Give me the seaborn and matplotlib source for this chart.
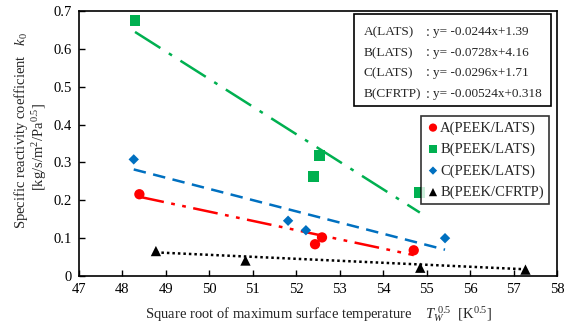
import numpy as np
import pandas as pd
import matplotlib
matplotlib.use("Agg")
import matplotlib.pyplot as plt
import seaborn as sns
from matplotlib.patches import Rectangle

sns.set_theme(style="ticks")
plt.rcParams['font.family'] = ['Liberation Serif', 'DejaVu Serif']
plt.rcParams['mathtext.fontset'] = 'custom'
plt.rcParams['mathtext.rm'] = 'Liberation Serif'
plt.rcParams['mathtext.it'] = 'Liberation Serif:italic'

# ---- data ----
series_names = ["A(PEEK/LATS)", "B(PEEK/LATS)", "C(PEEK/LATS)", "B(PEEK/CFRTP)"]
a_x = [48.39, 52.43, 52.59, 54.70]
a_y = [0.216, 0.084, 0.102, 0.068]
b_x = [48.29, 52.40, 52.54, 54.84]
b_y = [0.675, 0.262, 0.318, 0.220]
c_x = [48.26, 51.81, 52.22, 55.42]
c_y = [0.308, 0.146, 0.121, 0.100]
d_x = [48.77, 50.83, 54.85, 57.27]
d_y = [0.066, 0.041, 0.022, 0.017]

fit_labels = ["A(LATS)", "B(LATS)", "C(LATS)", "B(CFRTP)"]
fit_text = ["y= -0.0244x+1.39", "y= -0.0728x+4.16", "y= -0.0296x+1.71", "y= -0.00524x+0.318"]
slopes = [-0.0244, -0.0728, -0.0296, -0.00524]
intercepts = [1.39, 4.16, 1.71, 0.318]

x_ticks = list(range(47, 59))
y_ticks = [0, 0.1, 0.2, 0.3, 0.4, 0.5, 0.6, 0.7]

colors = ["#FF0000", "#00B050", "#0070C0", "#000000"]
markers = ["o", "s", "D", "^"]
msizes = [55, 60, 28, 55]
linestyles = [(0, (10, 3, 1.5, 3, 1.5, 3)), (0, (12, 4, 1.5, 4)), (0, (5, 3)), (0, (1, 1.2))]

xs = [a_x, b_x, c_x, d_x]
ys = [a_y, b_y, c_y, d_y]

fig = plt.figure(figsize=(5.68, 3.31), dpi=100)
ax = fig.add_axes([0.139, 0.166, 0.842, 0.801])

for i in range(4):
    df = pd.DataFrame({"x": xs[i], "y": ys[i]})
    xmin, xmax = min(xs[i]), max(xs[i])
    lx = np.array([xmin, xmax])
    ldf = pd.DataFrame({"x": lx, "y": slopes[i] * lx + intercepts[i]})
    sns.lineplot(data=ldf, x="x", y="y", ax=ax, color=colors[i], lw=1.8,
                 linestyle=linestyles[i], zorder=2)
    sns.scatterplot(data=df, x="x", y="y", ax=ax, color=colors[i], marker=markers[i],
                    s=msizes[i], edgecolor="none", label=series_names[i], zorder=3)

ax.set_xlim(47, 58)
ax.set_ylim(0, 0.7)
ax.set_xticks(x_ticks)
ax.set_yticks(y_ticks)
ax.set_yticklabels(["0", "0.1", "0.2", "0.3", "0.4", "0.5", "0.6", "0.7"])
ax.tick_params(direction="in", length=4, width=1, labelsize=10.5, colors="black", pad=5)
for s in ax.spines.values():
    s.set_linewidth(1.2)
    s.set_color("black")

ax.set_xlabel(r"Square root of maximum surface temperature    $T_W^{\ 0.5}$  [K$^{0.5}$]",
              fontsize=10.5, labelpad=6)
ax.set_ylabel("")
fig.text(0.037, 0.605, r"Specific reactivity coefficient   $k_0$", rotation=90,
         ha="center", va="center", fontsize=10.5)
fig.text(0.07, 0.555, r"[kg/s/m$^2$/Pa$^{0.5}$]", rotation=90,
         ha="center", va="center", fontsize=10.5)

# equation box (in pixel -> figure coords)
W, H = 568, 331
box = Rectangle((354 / W, 1 - 106 / H), (551 - 354) / W, (106 - 14) / H,
                transform=fig.transFigure, facecolor="white", edgecolor="black", lw=1.2, zorder=5)
fig.patches.append(box)
ypx = [32, 53, 73, 94]
for i in range(4):
    fig.text(364 / W, 1 - ypx[i] / H, fit_labels[i], fontsize=9.5, va="center", ha="left", zorder=6)
    fig.text(426 / W, 1 - ypx[i] / H, ":", fontsize=10, va="center", ha="left", zorder=6)
    fig.text(433 / W, 1 - ypx[i] / H, fit_text[i], fontsize=9.5, va="center", ha="left", zorder=6)

leg = ax.legend(loc="upper right", bbox_to_anchor=(549 / W, 1 - 116 / H),
                bbox_transform=fig.transFigure, fontsize=10.5, frameon=True, fancybox=False,
                edgecolor="black", handletextpad=0.0, handlelength=1.0, borderpad=0.35,
                labelspacing=0.55, borderaxespad=0, markerscale=0.8)
leg.get_frame().set_linewidth(1.2)

fig.savefig("out.png", dpi=100)
